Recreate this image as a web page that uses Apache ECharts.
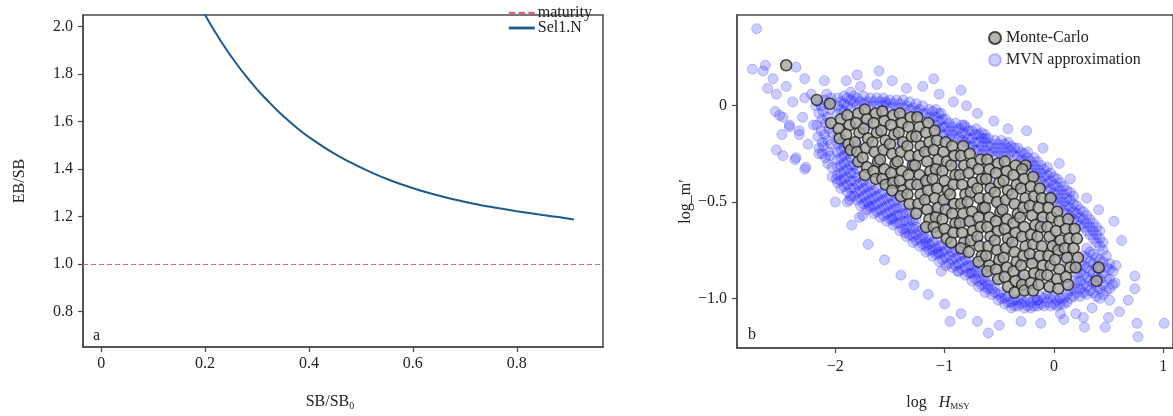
<!DOCTYPE html>
<html><head><meta charset="utf-8">
<script src="https://cdn.jsdelivr.net/npm/echarts@6/dist/echarts.min.js"></script>
<style>html,body{margin:0;padding:0;background:#fff}#c{width:1173px;height:416px}</style>
</head><body><div id="c"></div>
<script>
// ---- Panel a data ----
const sbX = [0.18,0.20,0.22,0.24,0.26,0.28,0.30,0.32,0.34,0.36,0.38,0.40,0.44,0.48,0.52,0.56,0.60,0.64,0.68,0.72,0.76,0.80,0.84,0.88,0.91];
const sel1N = [2.13,2.05,1.975,1.907,1.845,1.788,1.736,1.689,1.645,1.605,1.568,1.535,1.477,1.428,1.386,1.350,1.320,1.294,1.272,1.253,1.237,1.223,1.210,1.198,1.188];
const maturityLevel = 1.0;
const aXTicks = [0,0.2,0.4,0.6,0.8];
const aYTicks = [0.8,1.0,1.2,1.4,1.6,1.8,2.0];
// ---- Panel b data ----
const bXTicks = [-2,-1,0,1];
const bYTicks = [-1,-0.5,0];
const monteCarlo = [
[-2.45,0.21],[-2.17,0.03],[-2.05,0.01],[-0.26,-0.31],[0.41,-0.84],[0.39,-0.91],
[-2.04,-0.09],
[-1.95,-0.07],[-1.97,-0.12],[-1.96,-0.17],
[-1.89,-0.05],[-1.87,-0.10],[-1.90,-0.15],[-1.88,-0.20],[-1.86,-0.23],
[-1.79,-0.04],[-1.81,-0.09],[-1.78,-0.14],[-1.82,-0.19],[-1.80,-0.24],[-1.79,-0.29],
[-1.73,-0.02],[-1.71,-0.07],[-1.74,-0.12],[-1.70,-0.17],[-1.72,-0.22],[-1.75,-0.27],[-1.71,-0.32],[-1.73,-0.36],
[-1.63,-0.04],[-1.65,-0.09],[-1.62,-0.14],[-1.66,-0.19],[-1.64,-0.24],[-1.61,-0.29],[-1.65,-0.34],[-1.63,-0.38],
[-1.57,-0.03],[-1.55,-0.08],[-1.58,-0.13],[-1.54,-0.18],[-1.56,-0.23],[-1.59,-0.28],[-1.55,-0.33],[-1.57,-0.38],[-1.54,-0.41],
[-1.47,-0.05],[-1.49,-0.10],[-1.46,-0.15],[-1.50,-0.20],[-1.48,-0.25],[-1.45,-0.30],[-1.49,-0.35],[-1.47,-0.40],[-1.48,-0.44],
[-1.41,-0.04],[-1.39,-0.09],[-1.42,-0.14],[-1.38,-0.19],[-1.40,-0.24],[-1.43,-0.29],[-1.39,-0.34],[-1.41,-0.39],[-1.38,-0.44],[-1.40,-0.47],
[-1.31,-0.06],[-1.33,-0.11],[-1.30,-0.16],[-1.34,-0.21],[-1.32,-0.26],[-1.29,-0.31],[-1.33,-0.36],[-1.31,-0.41],[-1.34,-0.46],[-1.32,-0.51],
[-1.25,-0.06],[-1.23,-0.11],[-1.26,-0.16],[-1.22,-0.21],[-1.24,-0.26],[-1.27,-0.31],[-1.23,-0.36],[-1.25,-0.41],[-1.22,-0.46],[-1.24,-0.51],[-1.26,-0.56],
[-1.15,-0.09],[-1.17,-0.14],[-1.14,-0.19],[-1.18,-0.24],[-1.16,-0.29],[-1.13,-0.34],[-1.17,-0.39],[-1.15,-0.44],[-1.18,-0.49],[-1.16,-0.54],[-1.14,-0.59],[-1.17,-0.63],
[-1.09,-0.13],[-1.07,-0.18],[-1.10,-0.23],[-1.06,-0.28],[-1.08,-0.33],[-1.11,-0.38],[-1.07,-0.43],[-1.09,-0.48],[-1.06,-0.53],[-1.08,-0.58],[-1.10,-0.63],[-1.07,-0.66],
[-0.99,-0.19],[-1.01,-0.24],[-0.98,-0.29],[-1.02,-0.34],[-1.00,-0.39],[-0.97,-0.44],[-1.01,-0.49],[-0.99,-0.54],[-1.02,-0.59],[-1.00,-0.64],[-0.98,-0.69],
[-0.93,-0.21],[-0.91,-0.26],[-0.94,-0.31],[-0.90,-0.36],[-0.92,-0.41],[-0.95,-0.46],[-0.91,-0.51],[-0.93,-0.56],[-0.90,-0.61],[-0.92,-0.66],[-0.94,-0.71],
[-0.83,-0.21],[-0.85,-0.26],[-0.82,-0.31],[-0.86,-0.36],[-0.84,-0.41],[-0.81,-0.46],[-0.85,-0.51],[-0.83,-0.56],[-0.86,-0.61],[-0.84,-0.66],[-0.82,-0.71],[-0.85,-0.74],
[-0.77,-0.25],[-0.75,-0.30],[-0.78,-0.35],[-0.74,-0.40],[-0.76,-0.45],[-0.79,-0.50],[-0.75,-0.55],[-0.77,-0.60],[-0.74,-0.65],[-0.76,-0.70],[-0.78,-0.76],
[-0.67,-0.28],[-0.69,-0.33],[-0.66,-0.38],[-0.70,-0.43],[-0.68,-0.48],[-0.65,-0.53],[-0.69,-0.58],[-0.67,-0.63],[-0.70,-0.68],[-0.68,-0.73],[-0.66,-0.78],[-0.69,-0.81],
[-0.61,-0.28],[-0.59,-0.33],[-0.62,-0.38],[-0.58,-0.43],[-0.60,-0.48],[-0.63,-0.53],[-0.59,-0.58],[-0.61,-0.63],[-0.58,-0.68],[-0.60,-0.73],[-0.62,-0.78],[-0.59,-0.83],[-0.61,-0.86],
[-0.51,-0.30],[-0.53,-0.35],[-0.50,-0.40],[-0.54,-0.45],[-0.52,-0.50],[-0.49,-0.55],[-0.53,-0.60],[-0.51,-0.65],[-0.54,-0.70],[-0.52,-0.75],[-0.50,-0.80],[-0.53,-0.85],[-0.51,-0.90],
[-0.45,-0.29],[-0.43,-0.34],[-0.46,-0.39],[-0.42,-0.44],[-0.44,-0.49],[-0.47,-0.54],[-0.43,-0.59],[-0.45,-0.64],[-0.42,-0.69],[-0.44,-0.74],[-0.46,-0.79],[-0.43,-0.84],[-0.45,-0.89],[-0.42,-0.94],
[-0.35,-0.31],[-0.37,-0.36],[-0.34,-0.41],[-0.38,-0.46],[-0.36,-0.51],[-0.33,-0.56],[-0.37,-0.61],[-0.35,-0.66],[-0.38,-0.71],[-0.36,-0.76],[-0.34,-0.81],[-0.37,-0.86],[-0.35,-0.91],[-0.36,-0.97],
[-0.29,-0.33],[-0.27,-0.38],[-0.30,-0.43],[-0.26,-0.48],[-0.28,-0.53],[-0.31,-0.58],[-0.27,-0.63],[-0.29,-0.68],[-0.26,-0.73],[-0.28,-0.78],[-0.30,-0.83],[-0.27,-0.88],[-0.29,-0.93],[-0.27,-0.96],
[-0.19,-0.37],[-0.21,-0.42],[-0.18,-0.47],[-0.22,-0.52],[-0.20,-0.57],[-0.17,-0.62],[-0.21,-0.67],[-0.19,-0.72],[-0.22,-0.77],[-0.20,-0.82],[-0.18,-0.87],[-0.21,-0.92],[-0.19,-0.96],
[-0.13,-0.43],[-0.11,-0.48],[-0.14,-0.53],[-0.10,-0.58],[-0.12,-0.63],[-0.15,-0.68],[-0.11,-0.73],[-0.13,-0.78],[-0.10,-0.83],[-0.12,-0.88],[-0.14,-0.93],
[-0.03,-0.48],[-0.05,-0.53],[-0.02,-0.58],[-0.06,-0.63],[-0.04,-0.68],[-0.01,-0.73],[-0.05,-0.78],[-0.03,-0.83],[-0.06,-0.88],[-0.04,-0.94],
[0.03,-0.55],[0.05,-0.60],[0.02,-0.65],[0.06,-0.70],[0.04,-0.75],[0.01,-0.80],[0.05,-0.85],[0.03,-0.90],[0.04,-0.95],
[0.13,-0.59],[0.11,-0.64],[0.14,-0.69],[0.10,-0.74],[0.12,-0.79],[0.15,-0.84],[0.11,-0.89],[0.13,-0.93],
[0.19,-0.64],[0.21,-0.69],[0.18,-0.74],[0.22,-0.79],[0.20,-0.84]
];
const mvnApprox = [
// scattered outliers
[-2.72,0.40],[-2.76,0.19],[-2.66,0.18],[-2.57,0.14],[-2.62,0.09],[-2.45,0.10],[-2.28,0.14],[-2.36,0.20],[-2.10,0.13],[-1.90,0.13],
[-2.55,-0.03],[-2.51,-0.05],[-2.49,-0.15],[-2.54,-0.23],[-2.48,-0.26],[-2.37,-0.28],[-2.28,-0.33],[-1.89,-0.50],[-1.99,-0.38],[-1.78,-0.58],
[-2.15,-0.25],[-2.33,-0.13],[-2.42,-0.10],[-2.39,0.02],[-2.28,0.04],[-2.22,0.06],[-2.08,0.06],[-2.64,0.21],[-2.54,0.06],[-2.48,-0.06],
[-2.42,-0.11],[-2.33,-0.15],[-2.36,-0.27],[-2.27,-0.32],[-2.12,-0.25],[-2.03,-0.37],[-1.87,-0.49],[-1.80,0.16],[-1.77,0.10],[-1.54,0.02],
[-1.03,-0.04],[-0.82,-0.10],[-0.71,-0.12],[-0.63,-0.17],[-2.25,-0.20],[-2.30,-0.06],[-2.20,-0.10],[-2.18,0.00],
[-1.62,0.11],[-1.48,0.13],[-1.35,0.09],[-1.20,0.10],[-1.05,0.06],[-0.92,0.02],[-0.80,0.00],[-0.70,-0.04],[-0.55,-0.08],
[-0.42,-0.12],[-0.25,-0.13],[-0.10,-0.22],[0.05,-0.30],[0.15,-0.38],[0.30,-0.48],[0.55,-0.60],[0.62,-0.70],[-1.10,0.14],[-0.85,0.08],[-1.60,0.18],
[-1.75,-0.57],[-1.69,-0.52],[-1.48,-0.59],[-1.36,-0.66],[-1.17,-0.71],[-1.06,-0.76],[-1.03,-0.86],[-0.88,-0.86],[-0.76,-0.87],
[-0.27,-1.05],[-0.15,-1.01],[0.06,-1.08],[0.27,-1.10],[0.09,-1.11],
[-1.70,-0.72],[-1.55,-0.80],[-1.40,-0.88],[-1.28,-0.93],[-1.15,-0.98],[-1.00,-1.03],[-0.85,-1.08],[-0.70,-1.12],[-0.50,-1.14],[-0.30,-1.12],
[-0.12,-1.13],[0.20,-1.08],[0.35,-1.05],[-1.85,-0.62],[-2.00,-0.50],[-0.95,-1.12],[-0.60,-1.18],[0.28,-1.15],
[0.41,-0.54],[0.51,-0.82],[0.57,-0.83],[0.74,-0.885],[0.74,-0.95],[0.68,-1.01],[0.60,-1.07],[0.50,-1.10],[0.47,-1.15],[0.76,-1.13],
[0.77,-1.20],[1.01,-1.13],[0.51,-1.01],[0.56,-0.92],
// dense left block
[-2.16,0.02],[-2.15,-0.04],[-2.17,-0.10],[-2.16,-0.16],[-2.15,-0.22],[-2.10,0.03],[-2.11,-0.03],[-2.09,-0.09],[-2.10,-0.15],[-2.11,-0.21],
[-2.09,-0.27],[-2.04,0.04],[-2.05,-0.02],[-2.03,-0.14],[-2.04,-0.20],[-2.05,-0.26],[-2.03,-0.32],
[-2.13,0.00],[-2.12,-0.07],[-2.13,-0.13],[-2.12,-0.19],[-2.07,0.01],[-2.07,-0.06],[-2.06,-0.12],[-2.07,-0.18],[-2.06,-0.24],[-2.07,-0.30],
// dense rim above the Monte-Carlo band
[-1.98,-0.04],[-1.98,0.00],[-1.98,0.04],[-1.92,-0.03],[-1.92,0.01],[-1.92,0.05],[-1.86,-0.01],[-1.86,0.03],[-1.86,0.07],
[-1.80,0.00],[-1.80,0.04],[-1.74,0.01],[-1.74,0.05],[-1.68,0.00],[-1.68,0.04],[-1.62,0.00],[-1.62,0.04],[-1.56,0.00],[-1.56,0.04],
[-1.50,-0.01],[-1.50,0.03],[-1.44,-0.01],[-1.44,0.03],[-1.38,-0.01],[-1.38,0.03],[-1.32,-0.02],[-1.32,0.02],[-1.26,-0.03],[-1.26,0.01],
[-1.20,-0.04],[-1.20,0.00],[-1.14,-0.06],[-1.14,-0.02],[-1.08,-0.10],[-1.08,-0.06],[-1.08,-0.02],[-1.02,-0.15],[-1.02,-0.11],[-1.02,-0.07],
[-0.96,-0.17],[-0.96,-0.13],[-0.96,-0.09],[-0.90,-0.17],[-0.90,-0.13],[-0.90,-0.09],[-0.84,-0.18],[-0.84,-0.14],[-0.84,-0.10],
[-0.78,-0.21],[-0.78,-0.17],[-0.78,-0.13],[-0.72,-0.23],[-0.72,-0.19],[-0.72,-0.15],[-0.66,-0.25],[-0.66,-0.21],[-0.66,-0.17],[-0.66,-0.14],
[-0.60,-0.25],[-0.60,-0.21],[-0.60,-0.17],[-0.54,-0.26],[-0.54,-0.22],[-0.54,-0.18],[-0.48,-0.26],[-0.48,-0.22],[-0.48,-0.18],
[-0.42,-0.26],[-0.42,-0.22],[-0.42,-0.19],[-0.36,-0.26],[-0.36,-0.22],[-0.30,-0.28],[-0.30,-0.24],[-0.24,-0.31],[-0.24,-0.27],[-0.24,-0.24],
[-0.18,-0.35],[-0.18,-0.31],[-0.18,-0.27],[-0.12,-0.39],[-0.12,-0.35],[-0.12,-0.31],[-0.06,-0.44],[-0.06,-0.40],[-0.06,-0.36],[-0.06,-0.32],
[0.00,-0.49],[0.00,-0.45],[0.00,-0.41],[0.00,-0.37],[0.06,-0.52],[0.06,-0.48],[0.06,-0.44],[0.06,-0.40],[0.12,-0.56],[0.12,-0.52],[0.12,-0.48],[0.12,-0.44],
[0.18,-0.59],[0.18,-0.55],[0.18,-0.51],[0.18,-0.47],[0.24,-0.62],[0.24,-0.58],[0.24,-0.54],[0.30,-0.65],[0.30,-0.61],[0.30,-0.57],
[0.36,-0.69],[0.36,-0.65],[0.36,-0.61],[0.42,-0.73],[0.42,-0.69],[0.42,-0.65],
[-1.95,-0.02],[-1.95,0.02],[-1.89,0.00],[-1.89,0.04],[-1.83,0.02],[-1.83,0.05],[-1.77,0.02],[-1.71,0.02],[-1.65,0.02],[-1.59,0.02],
[-1.53,0.01],[-1.47,0.01],[-1.41,0.01],[-1.35,0.00],[-1.29,-0.01],[-1.23,-0.02],[-1.17,-0.04],[-1.11,-0.07],[-1.11,-0.03],
[-1.05,-0.12],[-1.05,-0.08],[-1.05,-0.04],[-0.99,-0.15],[-0.99,-0.11],[-0.99,-0.07],[-0.93,-0.15],[-0.93,-0.11],[-0.87,-0.16],[-0.87,-0.12],
[-0.81,-0.19],[-0.81,-0.15],[-0.81,-0.11],[-0.75,-0.21],[-0.75,-0.17],[-0.75,-0.13],[-0.69,-0.23],[-0.69,-0.19],[-0.69,-0.15],
[-0.63,-0.23],[-0.63,-0.19],[-0.63,-0.15],[-0.57,-0.24],[-0.57,-0.20],[-0.51,-0.24],[-0.51,-0.20],[-0.45,-0.24],[-0.45,-0.20],
[-0.39,-0.24],[-0.39,-0.21],[-0.33,-0.26],[-0.33,-0.22],[-0.27,-0.29],[-0.27,-0.25],[-0.21,-0.33],[-0.21,-0.29],
[-0.15,-0.37],[-0.15,-0.33],[-0.15,-0.29],[-0.09,-0.41],[-0.09,-0.37],[-0.09,-0.33],[-0.03,-0.47],[-0.03,-0.43],[-0.03,-0.39],[-0.03,-0.35],
[0.03,-0.50],[0.03,-0.46],[0.03,-0.42],[0.03,-0.38],[0.09,-0.54],[0.09,-0.50],[0.09,-0.46],[0.09,-0.42],[0.15,-0.57],[0.15,-0.53],[0.15,-0.49],[0.15,-0.45],
[0.21,-0.60],[0.21,-0.56],[0.21,-0.52],[0.27,-0.63],[0.27,-0.59],[0.27,-0.55],[0.33,-0.67],[0.33,-0.63],[0.33,-0.59],[0.39,-0.71],[0.39,-0.67],[0.39,-0.63],[0.45,-0.75],[0.45,-0.71],
// dense rim below the Monte-Carlo band
[-1.98,-0.16],[-1.98,-0.20],[-1.98,-0.24],[-1.98,-0.28],[-1.98,-0.32],[-1.98,-0.36],[-1.98,-0.40],
[-1.92,-0.22],[-1.92,-0.26],[-1.92,-0.30],[-1.92,-0.34],[-1.92,-0.38],[-1.92,-0.42],
[-1.86,-0.27],[-1.86,-0.31],[-1.86,-0.35],[-1.86,-0.39],[-1.86,-0.43],[-1.86,-0.47],
[-1.80,-0.33],[-1.80,-0.37],[-1.80,-0.41],[-1.80,-0.45],[-1.80,-0.49],
[-1.74,-0.39],[-1.74,-0.43],[-1.74,-0.47],[-1.74,-0.51],[-1.68,-0.41],[-1.68,-0.45],[-1.68,-0.49],[-1.68,-0.53],
[-1.62,-0.43],[-1.62,-0.47],[-1.62,-0.51],[-1.62,-0.55],[-1.56,-0.45],[-1.56,-0.49],[-1.56,-0.53],[-1.56,-0.57],
[-1.50,-0.47],[-1.50,-0.51],[-1.50,-0.55],[-1.50,-0.59],[-1.44,-0.49],[-1.44,-0.53],[-1.44,-0.57],[-1.44,-0.61],
[-1.38,-0.52],[-1.38,-0.56],[-1.38,-0.60],[-1.38,-0.64],[-1.32,-0.55],[-1.32,-0.59],[-1.32,-0.63],[-1.32,-0.67],
[-1.26,-0.59],[-1.26,-0.63],[-1.26,-0.67],[-1.26,-0.70],[-1.20,-0.64],[-1.20,-0.68],[-1.20,-0.72],
[-1.14,-0.68],[-1.14,-0.72],[-1.14,-0.75],[-1.08,-0.70],[-1.08,-0.74],[-1.08,-0.77],[-1.02,-0.72],[-1.02,-0.76],[-1.02,-0.80],
[-0.96,-0.74],[-0.96,-0.78],[-0.96,-0.82],[-0.90,-0.75],[-0.90,-0.79],[-0.90,-0.83],[-0.84,-0.77],[-0.84,-0.81],[-0.84,-0.85],
[-0.78,-0.79],[-0.78,-0.83],[-0.78,-0.87],[-0.72,-0.82],[-0.72,-0.86],[-0.72,-0.90],[-0.66,-0.86],[-0.66,-0.90],[-0.66,-0.93],
[-0.60,-0.89],[-0.60,-0.93],[-0.60,-0.95],[-0.54,-0.93],[-0.54,-0.97],[-0.48,-0.97],[-0.48,-1.00],[-0.42,-0.99],[-0.42,-1.02],
[-0.36,-1.01],[-0.36,-1.04],[-0.30,-1.00],[-0.30,-1.03],[-0.24,-1.00],[-0.24,-1.04],[-0.18,-1.00],[-0.18,-1.04],
[-0.12,-0.99],[-0.12,-1.03],[-0.06,-0.98],[-0.06,-1.02],[0.00,-0.99],[0.00,-1.03],[0.06,-1.00],[0.06,-1.03],[0.12,-0.98],[0.12,-1.02],
[0.18,-0.91],[0.18,-0.95],[0.18,-0.99],[0.24,-0.83],[0.24,-0.87],[0.24,-0.91],[0.24,-0.95],[0.24,-0.99],
[0.30,-0.74],[0.30,-0.79],[0.30,-0.84],[0.30,-0.89],[0.30,-0.94],[0.30,-0.98],[0.36,-0.77],[0.36,-0.82],[0.36,-0.87],[0.36,-0.92],[0.36,-0.97],
[0.42,-0.80],[0.42,-0.85],[0.42,-0.90],[0.42,-0.95],[0.42,-1.00],[0.48,-0.78],[0.48,-0.84],[0.48,-0.90],[0.48,-0.96],[0.54,-0.86],[0.54,-0.93],
[-1.95,-0.19],[-1.95,-0.23],[-1.95,-0.27],[-1.95,-0.31],[-1.95,-0.35],[-1.95,-0.39],[-1.95,-0.43],
[-1.89,-0.25],[-1.89,-0.29],[-1.89,-0.33],[-1.89,-0.37],[-1.89,-0.41],[-1.89,-0.45],
[-1.83,-0.31],[-1.83,-0.35],[-1.83,-0.39],[-1.83,-0.43],[-1.83,-0.47],
[-1.77,-0.40],[-1.77,-0.44],[-1.77,-0.48],[-1.77,-0.52],[-1.71,-0.42],[-1.71,-0.46],[-1.71,-0.50],[-1.71,-0.54],
[-1.65,-0.44],[-1.65,-0.48],[-1.65,-0.52],[-1.65,-0.56],[-1.59,-0.46],[-1.59,-0.50],[-1.59,-0.54],[-1.59,-0.58],
[-1.53,-0.48],[-1.53,-0.52],[-1.53,-0.56],[-1.53,-0.60],[-1.47,-0.50],[-1.47,-0.54],[-1.47,-0.58],[-1.47,-0.62],
[-1.41,-0.53],[-1.41,-0.57],[-1.41,-0.61],[-1.41,-0.65],[-1.35,-0.56],[-1.35,-0.60],[-1.35,-0.64],[-1.35,-0.68],
[-1.29,-0.60],[-1.29,-0.64],[-1.29,-0.68],[-1.29,-0.71],[-1.23,-0.65],[-1.23,-0.69],[-1.23,-0.73],
[-1.17,-0.69],[-1.17,-0.73],[-1.17,-0.76],[-1.11,-0.71],[-1.11,-0.75],[-1.11,-0.78],[-1.05,-0.73],[-1.05,-0.77],[-1.05,-0.81],
[-0.99,-0.75],[-0.99,-0.79],[-0.99,-0.83],[-0.93,-0.76],[-0.93,-0.80],[-0.93,-0.84],[-0.87,-0.78],[-0.87,-0.82],[-0.87,-0.86],
[-0.81,-0.80],[-0.81,-0.84],[-0.81,-0.88],[-0.75,-0.83],[-0.75,-0.87],[-0.75,-0.91],[-0.69,-0.87],[-0.69,-0.91],[-0.69,-0.94],
[-0.63,-0.91],[-0.63,-0.94],[-0.63,-0.97],[-0.57,-0.95],[-0.57,-0.98],[-0.51,-0.98],[-0.51,-1.01],[-0.45,-1.00],[-0.45,-1.03],
[-0.39,-1.02],[-0.39,-1.05],[-0.33,-1.01],[-0.33,-1.04],[-0.27,-1.02],[-0.21,-1.02],[-0.21,-1.05],[-0.15,-1.01],[-0.15,-1.04],
[-0.09,-1.00],[-0.09,-1.04],[-0.03,-1.00],[-0.03,-1.04],[0.03,-1.01],[0.03,-1.04],[0.09,-1.00],[0.09,-1.03],[0.15,-0.96],[0.15,-1.00],
[0.21,-0.87],[0.21,-0.92],[0.21,-0.97],[0.27,-0.78],[0.27,-0.83],[0.27,-0.88],[0.27,-0.93],[0.27,-0.97],
[0.33,-0.76],[0.33,-0.81],[0.33,-0.86],[0.33,-0.91],[0.33,-0.96],[0.39,-0.79],[0.39,-0.84],[0.39,-0.89],[0.39,-0.94],[0.39,-0.99],
[0.45,-0.81],[0.45,-0.87],[0.45,-0.93],[0.45,-0.98],[0.51,-0.85],[0.51,-0.90],[0.51,-0.95],
// under the Monte-Carlo cloud
[-1.60,-0.30],[-1.20,-0.40],[-0.80,-0.60],[-0.40,-0.70],[-1.40,-0.20],[-0.20,-0.80],[0.00,-0.70],[-1.00,-0.50],[-0.60,-0.40],[-1.80,-0.20],
[-1.70,-0.10],[-1.50,-0.38],[-1.30,-0.30],[-1.10,-0.55],[-0.90,-0.30],[-0.70,-0.70],[-0.50,-0.50],[-0.30,-0.90],[-0.10,-0.60],[0.10,-0.80]
];

const serif = "'Liberation Serif','Times New Roman',serif";
const axCol = '#4a4a4a';
const matCol = '#d9667b';
const selCol = '#1d5c8a';
const lbl = {color:'#222', fontFamily: serif, fontSize: 16};
const chart = echarts.init(document.getElementById('c'), null, {renderer:'canvas'});
function fmtMinus(s){ return s.replace('-', '\u2212'); }
chart.setOption({
  animation:false,
  backgroundColor:'#fff',
  grid:[
    {left:83, top:15, width:520, height:342, show:true, borderColor:axCol, borderWidth:1.5, containLabel:false},
    {left:737, top:15, width:440, height:340, show:true, borderColor:axCol, borderWidth:1.5, containLabel:false}
  ],
  xAxis:[
    {gridIndex:0, type:'value', min:-0.035, max:0.966,
     axisLine:{show:true, onZero:false, lineStyle:{color:axCol, width:1.5}},
     axisTick:{show:true, length:5, customValues:aXTicks, lineStyle:{color:axCol, width:1.2}},
     axisLabel:{show:true, customValues:aXTicks, margin:9, formatter:v=>v===0?'0':String(v), ...lbl},
     splitLine:{show:false},
     name:'SB/SB{s|0}', nameLocation:'middle', nameGap:46,
     nameTextStyle:{...lbl, padding:[0,26,0,0], rich:{s:{fontFamily:serif, fontSize:10, color:'#222', verticalAlign:'bottom', padding:[8,0,0,0]}}}},
    {gridIndex:1, type:'value', min:-2.90, max:1.09,
     axisLine:{show:true, onZero:false, lineStyle:{color:axCol, width:1.5}},
     axisTick:{show:true, length:5, customValues:bXTicks, lineStyle:{color:axCol, width:1.2}},
     axisLabel:{show:true, customValues:bXTicks, margin:11, formatter:v=>fmtMinus(String(v)), ...lbl},
     splitLine:{show:false},
     name:'log   {i|H}{s|MSY}', nameLocation:'middle', nameGap:46,
     nameTextStyle:{...lbl, padding:[0,34,0,0], rich:{i:{fontFamily:serif, fontStyle:'italic', fontSize:16, color:'#222'}, s:{fontFamily:serif, fontSize:9, color:'#222', verticalAlign:'bottom', padding:[8,0,0,0]}}}}
  ],
  yAxis:[
    {gridIndex:0, type:'value', min:0.651, max:2.049,
     axisLine:{show:true, onZero:false, lineStyle:{color:axCol, width:1.5}},
     axisTick:{show:true, length:5, customValues:aYTicks, lineStyle:{color:axCol, width:1.2}},
     axisLabel:{show:true, customValues:aYTicks, margin:10, formatter:v=>v.toFixed(1), ...lbl},
     splitLine:{show:false},
     name:'EB/SB', nameLocation:'middle', nameGap:55, nameTextStyle:{...lbl}},
    {gridIndex:1, type:'value', min:-1.258, max:0.471,
     axisLine:{show:true, onZero:false, lineStyle:{color:axCol, width:1.5}},
     axisTick:{show:true, length:5, customValues:bYTicks, lineStyle:{color:axCol, width:1.2}},
     axisLabel:{show:true, customValues:bYTicks, margin:10, formatter:v=>v===0?'0':fmtMinus(v.toFixed(1)), ...lbl},
     splitLine:{show:false},
     name:'log_m\u2032', nameLocation:'middle', nameGap:30, nameTextStyle:{...lbl, padding:[0,0,0,-40]}}
  ],
  legend:[
    {orient:'vertical', right:576, top:0, itemGap:-1, itemWidth:26, itemHeight:10,
     textStyle:{...lbl, fontSize:16, lineHeight:14, padding:[0,0,0,-2]},
     data:[
       {name:'maturity', icon:'path://M0,0h6v2.4h-6z M9,0h6v2.4h-6z M18,0h6v2.4h-6z', itemStyle:{color:matCol}},
       {name:'Sel1.N', icon:'path://M0,0h24v2.6h-24z', itemStyle:{color:selCol}}
     ]},
    {orient:'vertical', left:983, top:25, itemGap:6, itemWidth:12, itemHeight:12,
     textStyle:{...lbl, fontSize:16},
     data:['Monte-Carlo','MVN approximation']}
  ],
  graphic:[
    {type:'text', left:93, top:328, style:{text:'a', font:"16px 'Liberation Serif'", fill:'#222'}},
    {type:'text', left:748, top:327, style:{text:'b', font:"16px 'Liberation Serif'", fill:'#222'}}
  ],
  series:[
    {name:'maturity', type:'line', xAxisIndex:0, yAxisIndex:0, data:[], symbol:'none', color:matCol,
     lineStyle:{color:matCol, width:1, type:[5,3]}, itemStyle:{color:matCol},
     markLine:{silent:true, symbol:'none', label:{show:false}, animation:false,
       itemStyle:{color:matCol},
       lineStyle:{color:matCol, width:1, type:[5,3]},
       data:[{yAxis:maturityLevel, lineStyle:{color:matCol, width:1, type:[5,3]}}]}},
    {name:'Sel1.N', type:'line', xAxisIndex:0, yAxisIndex:0, smooth:true, symbol:'none', color:selCol,
     data: sbX.map((x,i)=>[x, sel1N[i]]),
     lineStyle:{color:selCol, width:2}, itemStyle:{color:selCol}},
    {name:'MVN approximation', type:'scatter', xAxisIndex:1, yAxisIndex:1, symbolSize:10,
     data: mvnApprox,
     itemStyle:{color:'rgba(30,30,255,0.28)', borderColor:'rgba(30,30,255,0.3)', borderWidth:1}},
    {name:'Monte-Carlo', type:'scatter', xAxisIndex:1, yAxisIndex:1, symbolSize:11,
     data: monteCarlo,
     itemStyle:{color:'#a4a49e', borderColor:'#1c1c1c', borderWidth:1.5}}
  ]
});
</script></body></html>
